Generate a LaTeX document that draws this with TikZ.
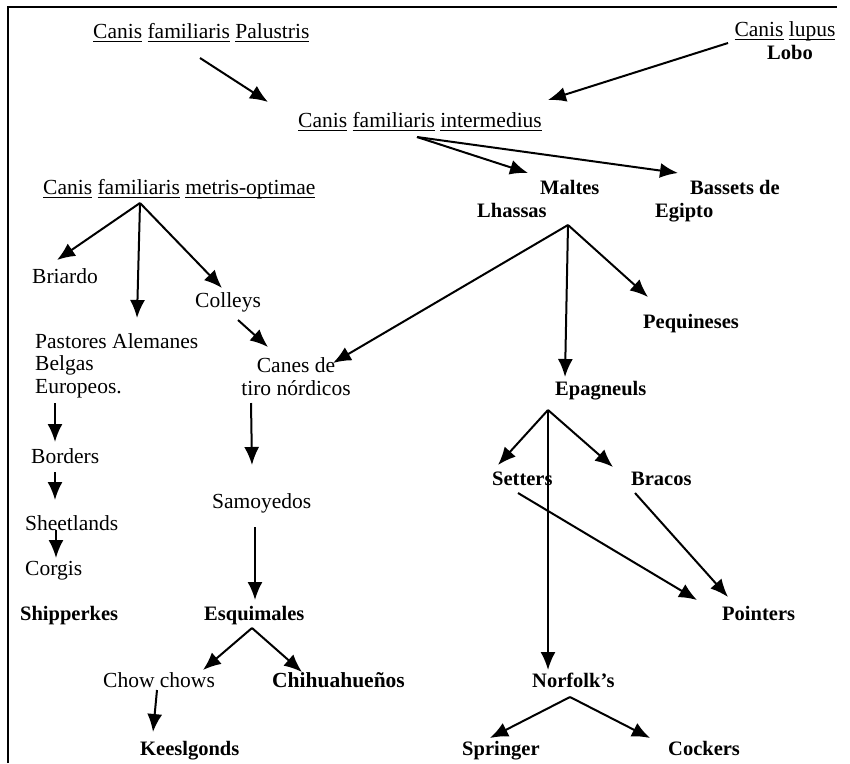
\documentclass[tikz,border=0pt]{standalone}
\usepackage{fontspec}
\setmainfont{Liberation Serif}
\usetikzlibrary{arrows.meta}
\newsavebox\uwbox
\newcommand\uw[1]{\sbox\uwbox{#1}\rlap{\rule[-3.5pt]{\wd\uwbox}{1pt}}\usebox\uwbox}
\tikzset{
  lbl/.style={anchor=base west, inner sep=0pt, font=\fontsize{21.5}{22.5}\selectfont, align=left},
  blbl/.style={anchor=base west, inner sep=0pt, font=\fontsize{20.5}{22.5}\selectfont\bfseries, align=left},
  arr/.style={line width=2pt, -{Latex[length=18pt,width=15pt]}},
  frame/.style={line width=1.6pt},
}
\begin{document}
\begin{tikzpicture}[x=1pt,y=-1pt]
\useasboundingbox (0,0) rectangle (850,763);
\fill[white] (0,0) rectangle (850,763);
\draw[frame] (8,763) -- (8,7) -- (837,7);

% nodes (multi-line nodes are placed by the baseline of their last line)
\node[lbl] (palustris) at (93,38) {\uw{Canis} \uw{familiaris} \uw{Palustris}};
\node[lbl, align=center, anchor=base] (lupus) at (785,59) {\uw{Canis} \uw{lupus}\\\hspace*{10pt}{\fontsize{20.5}{22.5}\selectfont\bfseries Lobo}};
\node[lbl] (intermedius) at (298,127) {\uw{Canis} \uw{familiaris} \uw{intermedius}};
\node[lbl] (metris) at (43,194) {\uw{Canis} \uw{familiaris} \uw{metris-optimae}};
\node[blbl] (maltes) at (477,217) {\hspace*{63pt}Maltes\\Lhassas};
\node[blbl] (bassets) at (655,217) {\hspace*{35pt}Bassets de\\Egipto};
\node[lbl] (briardo) at (32,283) {Briardo};
\node[lbl] (colleys) at (195,307) {Colleys};
\node[lbl] (pastores) at (35,393) {Pastores Alemanes\\Belgas\\Europeos.};
\node[lbl, align=center, anchor=base] (canes) at (296,395) {Canes de\\tiro nórdicos};
\node[blbl] (pequineses) at (643,328) {Pequineses};
\node[blbl] (epagneuls) at (555,395) {Epagneuls};
\node[lbl] (borders) at (31,463) {Borders};
\node[lbl] (sheetlands) at (25,530) {Sheetlands};
\node[lbl] (corgis) at (25,575) {Corgis};
\node[blbl] (shipperkes) at (20,620) {Shipperkes};
\node[lbl] (samoyedos) at (212,508) {Samoyedos};
\node[blbl] (esquimales) at (204,620) {Esquimales};
\node[lbl] (chow) at (103,687) {Chow chows};
\node[blbl, font=\fontsize{21.5}{22.5}\selectfont\bfseries] (chihua) at (272,687) {Chihuahueños};
\node[blbl] (keeslgonds) at (140,755) {Keeslgonds};
\node[blbl] (setters) at (492,485) {Setters};
\node[blbl] (bracos) at (631,485) {Bracos};
\node[blbl] (pointers) at (722,620) {Pointers};
\node[blbl] (norfolk) at (532,687) {Norfolk’s};
\node[blbl] (springer) at (462,755) {Springer};
\node[blbl] (cockers) at (668,755) {Cockers};

% connector ends
\coordinate (palustris-o) at (200,58);
\coordinate (intermedius-l) at (268,102);
\coordinate (lupus-o) at (728,43);
\coordinate (intermedius-r) at (548,100);
\coordinate (intermedius-o) at (417,137);
\coordinate (maltes-i) at (528,173);
\coordinate (bassets-i) at (678,173);
\coordinate (metris-o) at (140,203);
\coordinate (briardo-i) at (57,260);
\coordinate (pastores-i) at (137,318);
\coordinate (colleys-i) at (222,288);
\coordinate (colleys-o) at (238,320);
\coordinate (canes-l) at (268,347);
\coordinate (maltes-o) at (568,225);
\coordinate (canes-r) at (333,363);
\coordinate (epagneuls-i) at (565,377);
\coordinate (pequineses-i) at (648,297);
\coordinate (pastores-o) at (55,403);
\coordinate (borders-i) at (55,442);
\coordinate (borders-o) at (55,472);
\coordinate (sheetlands-i) at (55,500);
\coordinate (sheetlands-o) at (56,530);
\coordinate (corgis-i) at (56,558);
\coordinate (canes-o) at (251,403);
\coordinate (samoyedos-i) at (252,465);
\coordinate (samoyedos-o) at (255,527);
\coordinate (esquimales-i) at (255,600);
\coordinate (esquimales-o) at (252,628);
\coordinate (chow-i) at (203,670);
\coordinate (chihua-i) at (302,672);
\coordinate (chow-o) at (157,690);
\coordinate (keeslgonds-i) at (153,732);
\coordinate (epagneuls-o) at (548,410);
\coordinate (setters-i) at (498,465);
\coordinate (bracos-i) at (613,467);
\coordinate (norfolk-i) at (548,670);
\coordinate (setters-o) at (518,493);
\coordinate (pointers-l) at (697,600);
\coordinate (bracos-o) at (635,493);
\coordinate (pointers-r) at (728,597);
\coordinate (norfolk-o) at (570,697);
\coordinate (springer-i) at (490,738);
\coordinate (cockers-i) at (650,738);

% connectors
\draw[arr] (palustris-o) -- (intermedius-l);
\draw[arr] (lupus-o) -- (intermedius-r);
\draw[arr] (intermedius-o) -- (maltes-i);
\draw[arr] (intermedius-o) -- (bassets-i);
\draw[arr] (metris-o) -- (briardo-i);
\draw[arr] (metris-o) -- (pastores-i);
\draw[arr] (metris-o) -- (colleys-i);
\draw[arr] (colleys-o) -- (canes-l);
\draw[arr] (maltes-o) -- (canes-r);
\draw[arr] (maltes-o) -- (epagneuls-i);
\draw[arr] (maltes-o) -- (pequineses-i);
\draw[arr] (pastores-o) -- (borders-i);
\draw[arr] (borders-o) -- (sheetlands-i);
\draw[arr] (sheetlands-o) -- (corgis-i);
\draw[arr] (canes-o) -- (samoyedos-i);
\draw[arr] (samoyedos-o) -- (esquimales-i);
\draw[arr] (esquimales-o) -- (chow-i);
\draw[arr] (esquimales-o) -- (chihua-i);
\draw[arr] (chow-o) -- (keeslgonds-i);
\draw[arr] (epagneuls-o) -- (setters-i);
\draw[arr] (epagneuls-o) -- (bracos-i);
\draw[arr] (epagneuls-o) -- (norfolk-i);
\draw[arr] (setters-o) -- (pointers-l);
\draw[arr] (bracos-o) -- (pointers-r);
\draw[arr] (norfolk-o) -- (springer-i);
\draw[arr] (norfolk-o) -- (cockers-i);
\end{tikzpicture}
\end{document}
